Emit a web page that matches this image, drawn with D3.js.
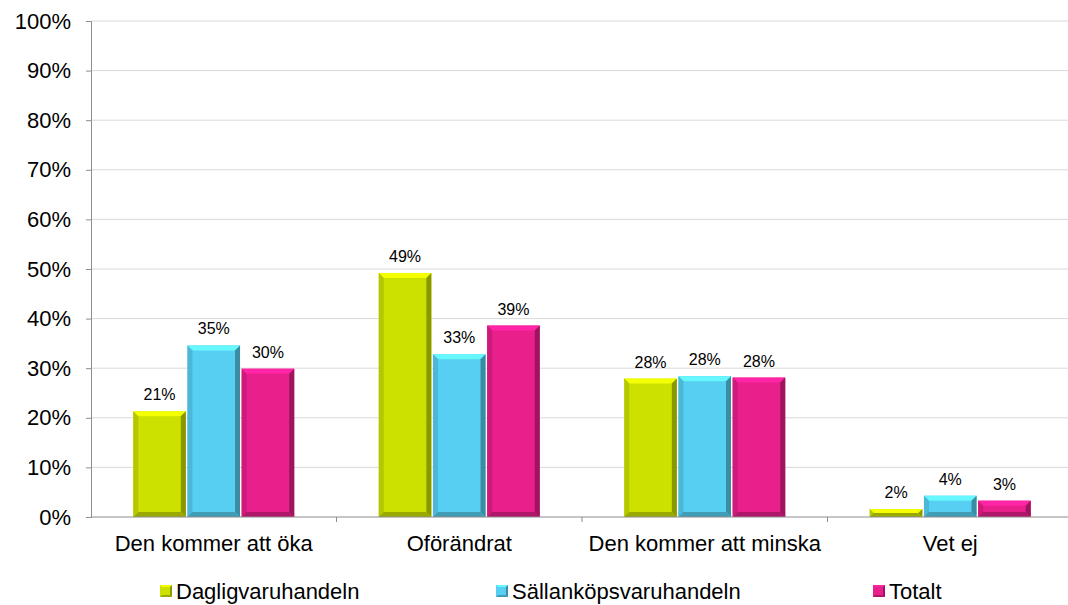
<!DOCTYPE html>
<html>
<head>
<meta charset="utf-8">
<script src="https://cdn.jsdelivr.net/npm/d3@7"></script>
<style>
  body { margin: 0; background: #fff; }
  svg { display: block; font-family: "Liberation Sans", Arial, sans-serif; }
</style>
</head>
<body>
<svg id="chart" width="1068" height="605"></svg>
<script>
// data
var categories = ["Den kommer att öka", "Oförändrat", "Den kommer att minska", "Vet ej"];
var seriesNames = ["Dagligvaruhandeln", "Sällanköpsvaruhandeln", "Totalt"];
var dagligvaruhandeln = [21.3, 49.2, 27.9, 1.6];
var sallankopsvaruhandeln = [34.6, 32.8, 28.4, 4.3];
var totalt = [29.9, 38.6, 28.1, 3.3];
var yTicks = [0, 10, 20, 30, 40, 50, 60, 70, 80, 90, 100];
var colors = ["#cce100", "#56cff2", "#e91f8b"];

var margin = { top: 21, right: -5, bottom: 88, left: 91 },
    width = 1068 - margin.left - margin.right,
    height = 605 - margin.top - margin.bottom;

var seriesValues = [dagligvaruhandeln, sallankopsvaruhandeln, totalt];
var data = seriesValues.map(function (vals, s) {
  return vals.map(function (v, i) { return { cat: categories[i], s: s, value: v }; });
});

var svg = d3.select("#chart");
var g = svg.append("g").attr("transform", "translate(" + margin.left + "," + margin.top + ")");

var x0 = d3.scaleBand().domain(categories).range([0, width]).paddingInner(0).paddingOuter(0);
var x1 = d3.scaleBand().domain(d3.range(seriesNames.length)).range([0, x0.bandwidth()]).paddingOuter(0.78).paddingInner(0.03);
var y = d3.scaleLinear().domain([0, 100]).range([height, 0]);

// grid
g.append("g").selectAll("line").data(yTicks.slice(1)).enter().append("line")
  .attr("x1", 0).attr("x2", 1068 - margin.left)
  .attr("y1", function (d) { return y(d); }).attr("y2", function (d) { return y(d); })
  .attr("stroke", "#d9d9d9").attr("stroke-width", 1);

// y axis
var yAxis = d3.axisLeft(y).tickValues(yTicks).tickSize(5).tickPadding(15)
  .tickFormat(function (d) { return d + "%"; });
var yg = g.append("g").call(yAxis);
yg.select(".domain").attr("stroke", "#8c8c8c");
yg.selectAll("line").attr("stroke", "#8c8c8c");
yg.selectAll("text").attr("font-size", "22px").attr("fill", "#000").attr("font-family", "Liberation Sans, Arial");

// bars with bevel
function bevelBar(sel, d) {
  var bx0 = x0(d.cat) + x1(d.s), bx1 = bx0 + x1.bandwidth();
  var by0 = y(d.value), by1 = y(0);
  var b = Math.min(5, (by1 - by0) / 2);
  var c = d3.color(colors[d.s]);
  sel.append("rect").attr("x", bx0).attr("y", by0).attr("width", bx1 - bx0).attr("height", by1 - by0).attr("fill", c);
  var faces = [
    { pts: [[bx0, by0], [bx1, by0], [bx1 - b, by0 + b], [bx0 + b, by0 + b]], col: c.brighter(0.5) },
    { pts: [[bx0, by0], [bx0 + b, by0 + b], [bx0 + b, by1 - b], [bx0, by1]], col: c.darker(0.35) },
    { pts: [[bx1, by0], [bx1, by1], [bx1 - b, by1 - b], [bx1 - b, by0 + b]], col: c.darker(1.1) },
    { pts: [[bx0, by1], [bx1, by1], [bx1 - b, by1 - b], [bx0 + b, by1 - b]], col: c.darker(0.8) }
  ];
  faces.forEach(function (f) {
    sel.append("polygon").attr("points", f.pts.map(function (p) { return p.join(","); }).join(" ")).attr("fill", f.col);
  });
}

data.forEach(function (series) {
  series.forEach(function (d) {
    bevelBar(g.append("g"), d);
    g.append("text")
      .attr("x", x0(d.cat) + x1(d.s) + x1.bandwidth() / 2)
      .attr("y", y(d.value) - 11)
      .attr("text-anchor", "middle").attr("font-size", "16px").attr("fill", "#000")
      .text(Math.round(d.value) + "%");
  });
});

// x axis
g.append("line").attr("x1", 0).attr("x2", 1068 - margin.left).attr("y1", height).attr("y2", height).attr("stroke", "#8c8c8c");
g.append("g").selectAll("line").data(categories.slice(1)).enter().append("line")
  .attr("x1", function (d) { return x0(d); }).attr("x2", function (d) { return x0(d); })
  .attr("y1", height).attr("y2", height + 5).attr("stroke", "#8c8c8c");
g.append("g").selectAll("text").data(categories).enter().append("text")
  .attr("x", function (d) { return x0(d) + x0.bandwidth() / 2; })
  .attr("y", height + 34)
  .attr("text-anchor", "middle").attr("font-size", "22px").attr("fill", "#000")
  .text(function (d) { return d; });

// legend
var legendX = [160, 496, 873];
var lg = svg.append("g");
seriesNames.forEach(function (name, s) {
  var item = lg.append("g");
  var c = d3.color(colors[s]);
  var lx = legendX[s], ly = 585, sz = 12, b = 2;
  item.append("rect").attr("x", lx).attr("y", ly).attr("width", sz).attr("height", sz).attr("fill", c);
  item.append("polygon").attr("points", [[lx, ly], [lx + sz, ly], [lx + sz - b, ly + b], [lx + b, ly + b]].join(" ")).attr("fill", c.brighter(0.5));
  item.append("polygon").attr("points", [[lx + sz, ly], [lx + sz, ly + sz], [lx + sz - b, ly + sz - b], [lx + sz - b, ly + b]].join(" ")).attr("fill", c.darker(1.1));
  item.append("polygon").attr("points", [[lx, ly + sz], [lx + sz, ly + sz], [lx + sz - b, ly + sz - b], [lx + b, ly + sz - b]].join(" ")).attr("fill", c.darker(0.8));
  item.append("text").attr("x", lx + sz + 4).attr("y", 599).attr("font-size", "22px").attr("fill", "#000").text(name);
});
</script>
</body>
</html>
